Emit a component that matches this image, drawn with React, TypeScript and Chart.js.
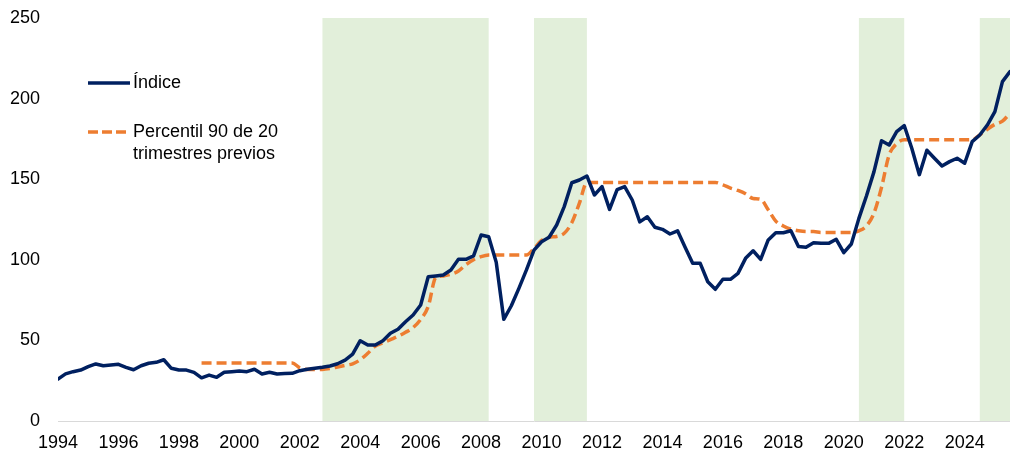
import React, { useEffect, useRef } from "react";
import { Chart, registerables } from "chart.js";

Chart.register(...registerables);

// Quarterly series starting 1994Q1
const START_YEAR = 1994;

const indice: number[] = [
  26, 29.2, 30.6, 31.6, 33.7, 35.4, 34.3, 34.7, // 1994-1995
  35.2, 33.3, 31.8, 34.3, 35.8, 36.4, 38, 32.7, // 1996-1997
  31.6, 31.6, 30.2, 26.8, 28.5, 27.1, 30.2, 30.6, // 1998-1999
  31, 30.6, 32.1, 29.2, 30.2, 29.2, 29.4, 29.6, // 2000-2001
  31.2, 32.1, 32.7, 33.3, 34.1, 35.5, 37.8, 41.5, // 2002-2003
  49.8, 47.1, 47.1, 49.8, 54.4, 56.9, 61.6, 65.8, // 2004-2005
  72, 89.5, 90, 90.6, 93.7, 100.3, 100.3, 102.4, // 2006-2007
  115.4, 114.3, 98.5, 63.1, 71.5, 82.3, 93.7, 106, // 2008-2009
  111.2, 114, 121.6, 133, 147.8, 149.5, 152, 140.2, // 2010-2011
  145.4, 131.3, 143.5, 145.4, 137.1, 123.5, 126.7, 120.2, // 2012-2013
  118.9, 116, 118, 107.8, 97.8, 97.8, 86.4, 81.7, // 2014-2015
  87.9, 87.9, 91.6, 100.9, 105.6, 100.3, 112.3, 116.8, // 2016-2017
  116.8, 118, 108.3, 107.8, 110.6, 110.2, 110.2, 112.7, // 2018-2019
  104.4, 109.8, 125.7, 139.6, 154.7, 173.9, 171.2, 179.5, // 2020-2021
  183.3, 169.2, 152.8, 168, 163, 158.2, 160.9, 163, // 2022-2023
  159.9, 173.3, 177.4, 183.6, 191.9, 210.5, 216.7, // 2024-2025Q3
];

const percentil: (number | null)[] = [
  null, null, null, null, null, null, null, null, // 1994-1995
  null, null, null, null, null, null, null, null, // 1996-1997
  null, null, null, 36, 36, 36, 36, 36, // 1998-1999
  36, 36, 36, 36, 36, 36, 36, 36, // 2000-2001
  33, 32, 32, 32, 32.5, 33.5, 34.5, 35.5, // 2002-2003
  38, 42, 46.5, 48.5, 50.5, 52.5, 55, 58, // 2004-2005
  63, 71, 89, 90, 91, 93, 97, 100, // 2006-2007
  102, 103, 103, 103, 103, 103, 103, 107, // 2008-2009
  112, 114, 114.5, 116.5, 123, 135, 148, 148, // 2010-2011
  148, 148, 148, 148, 148, 148, 148, 148, // 2012-2013
  148, 148, 148, 148, 148, 148, 148, 148, // 2014-2015
  146.5, 144.5, 143, 141, 138, 137.5, 131, 124, // 2016-2017
  121, 119, 118, 117.5, 117.5, 117, 117, 117, // 2018-2019
  117, 117, 118, 121, 129, 145, 165, 172, // 2020-2021
  174.5, 174.5, 174.5, 174.5, 174.5, 174.5, 174.5, 174.5, // 2022-2023
  174.5, 174.5, 177.5, 181, 184, 186, 191, // 2024-2025Q3
];

const shadedRanges: [number, number][] = [
  [2002.75, 2008.25],
  [2009.75, 2011.5],
  [2020.5, 2022.0],
  [2024.5, 2025.5],
];

const xTickYears = [1994, 1996, 1998, 2000, 2002, 2004, 2006, 2008, 2010, 2012, 2014, 2016, 2018, 2020, 2022, 2024];
const yTicks = [0, 50, 100, 150, 200, 250];

const SERIES_NAMES = ["Índice", "Percentil 90 de 20", "trimestres previos"];

const NAVY = "#002060";
const ORANGE = "#ED7D31";
const SHADE = "#E2EFDA";
const FONT = "'Liberation Sans', Arial, sans-serif";

const quarterX = (i: number) => START_YEAR + i / 4;

const shadePlugin = {
  id: "shadeRegions",
  beforeDraw(chart: any) {
    const { ctx, chartArea, scales } = chart;
    const x = scales.x;
    const y = scales.y;
    ctx.save();
    ctx.fillStyle = SHADE;
    const yTop = y.getPixelForValue(yTicks[yTicks.length - 1]);
    const yBot = y.getPixelForValue(yTicks[0]);
    for (const [a, b] of shadedRanges) {
      const x0 = Math.max(x.getPixelForValue(a), chartArea.left);
      const x1 = Math.min(x.getPixelForValue(b), chartArea.right);
      ctx.fillRect(x0, yTop, x1 - x0, yBot - yTop);
    }
    ctx.restore();
  },
};

export default function App() {
  const canvasRef = useRef<HTMLCanvasElement | null>(null);

  useEffect(() => {
    document.body.style.margin = "0";
    const canvas = canvasRef.current;
    if (!canvas) return;
    const chart = new Chart(canvas, {
      type: "line",
      data: {
        datasets: [
          {
            label: SERIES_NAMES[0],
            data: indice.map((v, i) => ({ x: quarterX(i), y: v })),
            borderColor: NAVY,
            borderWidth: 3.5,
            pointRadius: 0,
            tension: 0,
            borderJoinStyle: "round",
            borderCapStyle: "round",
            order: 1,
          },
          {
            label: SERIES_NAMES[1] + " " + SERIES_NAMES[2],
            data: percentil.map((v, i) => ({ x: quarterX(i), y: v })),
            borderColor: ORANGE,
            borderWidth: 3.5,
            borderDash: [10, 5],
            pointRadius: 0,
            cubicInterpolationMode: "monotone",
            borderCapStyle: "butt",
            order: 2,
          },
        ] as any,
      },
      options: {
        animation: false,
        responsive: false,
        maintainAspectRatio: false,
        layout: { padding: { top: 18, right: 0, bottom: 0, left: 0 } },
        plugins: {
          legend: { display: false },
          tooltip: { enabled: false },
        },
        scales: {
          x: {
            type: "linear",
            min: START_YEAR,
            max: quarterX(indice.length - 1),
            afterBuildTicks: (scale: any) => {
              scale.ticks = xTickYears.map((v) => ({ value: v }));
            },
            afterFit: (scale: any) => {
              scale.height = 32;
            },
            grid: { display: false, drawTicks: false },
            border: { display: true, color: "#D9D9D9", width: 1 },
            ticks: {
              autoSkip: false,
              maxRotation: 0,
              padding: 11,
              color: "#000",
              font: { family: FONT, size: 18 },
              callback: (v: any) => String(v),
            },
          },
          y: {
            min: yTicks[0],
            max: yTicks[yTicks.length - 1],
            afterBuildTicks: (scale: any) => {
              scale.ticks = yTicks.map((v) => ({ value: v }));
            },
            afterFit: (scale: any) => {
              scale.width = 58;
              scale.paddingTop = 0;
              scale.paddingBottom = 0;
            },
            grid: { display: false, drawTicks: false },
            border: { display: false },
            ticks: {
              padding: 18,
              color: "#000",
              font: { family: FONT, size: 18 },
              callback: (v: any) => String(v),
            },
          },
        },
      } as any,
      plugins: [shadePlugin],
    });
    return () => chart.destroy();
  }, []);

  const textStyle: React.CSSProperties = {
    position: "absolute",
    left: 133,
    fontFamily: FONT,
    fontSize: 18,
    lineHeight: "21.5px",
    color: "#000",
    whiteSpace: "nowrap",
  };

  return (
    <div style={{ position: "relative", width: 1010, height: 453 }}>
      <canvas ref={canvasRef} width={1010} height={453} style={{ display: "block", width: 1010, height: 453 }} />
      <svg style={{ position: "absolute", left: 0, top: 0 }} width={1010} height={453} pointerEvents="none">
        <line x1={88} y1={83} x2={130} y2={83} stroke={NAVY} strokeWidth={3.5} />
        <line x1={88} y1={132} x2={127} y2={132} stroke={ORANGE} strokeWidth={3.5} strokeDasharray="10 4" />
      </svg>
      <div style={{ ...textStyle, top: 72 }}>{SERIES_NAMES[0]}</div>
      <div style={{ ...textStyle, top: 121 }}>
        {SERIES_NAMES[1]}
        <br />
        {SERIES_NAMES[2]}
      </div>
    </div>
  );
}
